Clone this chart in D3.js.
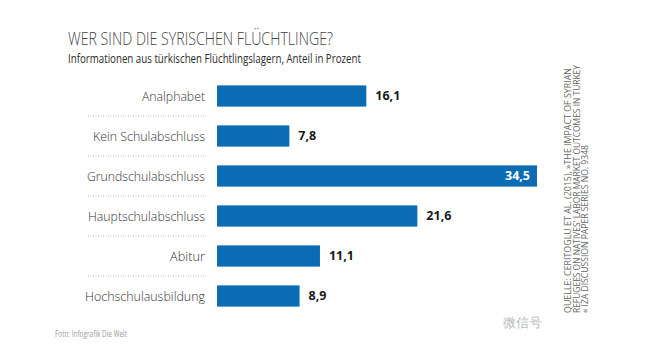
<!DOCTYPE html>
<html><head><meta charset="utf-8">
<script src="https://cdn.jsdelivr.net/npm/d3@7"></script>
<style>
body{margin:0;background:#fff;}
svg{display:block;}
text{font-family:"Open Sans",sans-serif;}
</style></head>
<body>
<svg id="c" width="646" height="360"></svg>
<script>
const categories = ["Analphabet","Kein Schulabschluss","Grundschulabschluss","Hauptschulabschluss","Abitur","Hochschulausbildung"];
const values = [16.1, 7.8, 34.5, 21.6, 11.1, 8.9];
const valueLabels = ["16,1","7,8","34,5","21,6","11,1","8,9"];
const title = "WER SIND DIE SYRISCHEN FLÜCHTLINGE?";
const subtitle = "Informationen aus türkischen Flüchtlingslagern, Anteil in Prozent";
const sourceLines = [
  "QUELLE: CERITOGLU ET AL. (2015), »THE IMPACT OF SYRIAN",
  "REFUGEES ON NATIVES' LABOR MARKET OUTCOMES IN TURKEY",
  "« IZA DISCUSSION PAPER SERIES NO. 9348"
];
const credit = "Foto: Infografik Die Welt";
const watermark = "微信号";

const labelWidths = [63, 112, 118, 117, 35, 120];

const svg = d3.select("#c");
const x = d3.scaleLinear().domain([0, 34.5]).range([217, 537]);
const y = d3.scaleBand().domain(categories).range([76, 316]).paddingInner(0.47).paddingOuter(0.235);

svg.append("text").attr("x",68).attr("y",45).attr("font-size",19).attr("font-weight",300)
  .attr("fill","#444").attr("textLength",265).attr("lengthAdjust","spacingAndGlyphs").text(title);
svg.append("text").attr("x",68).attr("y",63).attr("font-size",13.5)
  .attr("fill","#2a2a2a").attr("textLength",293).attr("lengthAdjust","spacingAndGlyphs").text(subtitle);

// dotted separators
const seps = categories.slice(0,-1);
const sepY = d => y(d)+y.bandwidth()+(y.step()-y.bandwidth())/2;
svg.selectAll("line.sep").data(seps).join("line").attr("class","sep")
  .attr("x1",88).attr("x2",207)
  .attr("y1",sepY).attr("y2",sepY)
  .attr("stroke","#bbb").attr("stroke-width",1).attr("stroke-dasharray","1,1.5");

svg.selectAll("rect.bar").data(values).join("rect").attr("class","bar")
  .attr("x",x(0)).attr("y",(d,i)=>y(categories[i]))
  .attr("width",d=>x(d)-x(0)).attr("height",y.bandwidth())
  .attr("fill","#0a6cb4");

svg.selectAll("text.cat").data(categories).join("text").attr("class","cat")
  .attr("x",205).attr("y",d=>y(d)+y.bandwidth()/2).attr("dy","0.35em")
  .attr("text-anchor","end").attr("font-size",13).attr("font-weight",300)
  .attr("textLength",(d,i)=>labelWidths[i]).attr("lengthAdjust","spacingAndGlyphs")
  .attr("fill","#333").text(d=>d);

svg.selectAll("text.val").data(values).join("text").attr("class","val")
  .attr("x",(d,i)=> i===2 ? x(d)-7 : x(d)+9)
  .attr("text-anchor",(d,i)=> i===2 ? "end":"start")
  .attr("y",(d,i)=>y(categories[i])+y.bandwidth()/2).attr("dy","0.35em")
  .attr("font-size",12.5).attr("font-weight",700)
  .attr("fill",(d,i)=> i===2 ? "#fff" : "#1a1a1a").text((d,i)=>valueLabels[i]);

// rotated source
const srcLens = [245, 248, 168];
sourceLines.forEach((t,i)=>{
  svg.append("text").attr("transform",`translate(${571+i*8.5},313) rotate(-90)`)
    .attr("font-family","Liberation Sans, Arial, sans-serif").attr("font-size",8.5)
    .attr("fill","#666").attr("textLength",srcLens[i]).attr("lengthAdjust","spacingAndGlyphs").text(t);
});

svg.append("text").attr("x",55).attr("y",337).attr("font-size",9).attr("fill","#999")
  .attr("textLength",72).attr("lengthAdjust","spacingAndGlyphs").text(credit);

svg.append("text").attr("x",503).attr("y",327).attr("font-family","Noto Sans CJK SC")
  .attr("font-size",13).attr("fill","#bbb").text(watermark);
</script>
</body></html>
